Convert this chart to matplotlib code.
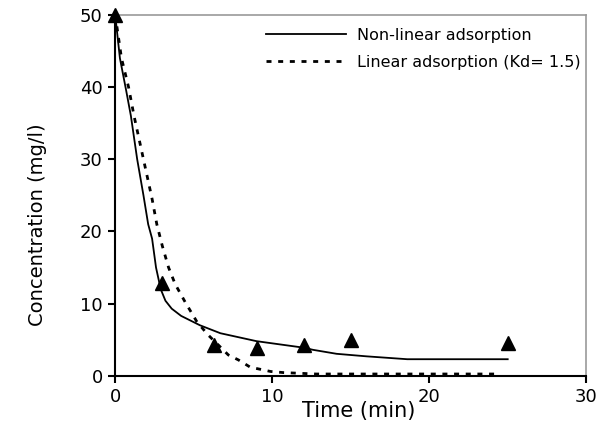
import matplotlib
matplotlib.use("Agg")
import matplotlib.pyplot as plt
import numpy as np

# measured concentrations
t_obs = [0, 3, 6.3, 9, 12, 15, 25]
c_obs = [50, 12.8, 4.3, 3.8, 4.2, 5.0, 4.6]

# non-linear adsorption model
t_nl = [0, 0.3, 0.7, 1.0, 1.4, 1.8, 2.1, 2.35, 2.6, 2.9, 3.2, 3.6, 4.2, 5.4,
        6.7, 9.0, 12.0, 12.6, 14.1, 16.0, 18.6, 25.0]
c_nl = [50, 44, 39.5, 36, 30, 25, 21, 19, 15, 12, 10.4, 9.3, 8.3, 7.0,
        5.9, 4.8, 3.9, 3.6, 3.05, 2.7, 2.3, 2.3]

# linear adsorption model, Kd = 1.5
t_lin = [0, 0.4, 0.85, 1.2, 1.6, 2.0, 2.35, 2.65, 3.0, 3.4, 3.82, 4.46, 5.2,
         5.9, 6.6, 7.2, 7.85, 8.6, 9.9, 10.7, 12.8, 24.3]
c_lin = [50, 44, 40, 36, 32, 28, 24.5, 21, 18, 15, 12.7, 10.2, 7.5,
         5.7, 4.2, 2.9, 2.2, 1.2, 0.6, 0.45, 0.25, 0.25]

fig = plt.figure(figsize=(6, 4.37), dpi=100)
ax = fig.add_axes([0.192, 0.14, 0.785, 0.826])

ax.plot(t_nl, c_nl, color="black", lw=1.3, label="Non-linear adsorption")
ax.plot(t_lin, c_lin, color="black", lw=2, linestyle=(0, (1.8, 2.4)),
        label="Linear adsorption (Kd= 1.5)")
ax.plot(t_obs, c_obs, linestyle="none", marker="^", ms=10, color="black",
        clip_on=False, zorder=5)

ax.set_xlim(0, 30)
ax.set_ylim(0, 50)
ax.set_xticks([0, 10, 20, 30])
ax.set_yticks([0, 10, 20, 30, 40, 50])

for s in ["left", "bottom"]:
    ax.spines[s].set_color("black")
    ax.spines[s].set_linewidth(1.5)
for s in ["top", "right"]:
    ax.spines[s].set_color("#999999")
    ax.spines[s].set_linewidth(1.2)

ax.tick_params(direction="out", length=5, width=1.5, labelsize=13, pad=4)
for lab in ax.get_xticklabels() + ax.get_yticklabels():
    lab.set_family("DejaVu Sans")

ax.set_xlabel("Time (min)", fontsize=15, family="DejaVu Sans")
ax.xaxis.set_label_coords(0.518, -0.07)
ax.set_ylabel("Concentration (mg/l)", fontsize=14, family="DejaVu Sans")
ax.yaxis.set_label_coords(-0.145, 0.42)

leg = ax.legend(loc="upper right", bbox_to_anchor=(1.012, 0.995), frameon=False,
                prop={"family": "DejaVu Sans", "size": 11.5}, handlelength=5.0,
                handletextpad=0.7, labelspacing=0.75, borderaxespad=0.3)

fig.savefig("out.png", dpi=100)
